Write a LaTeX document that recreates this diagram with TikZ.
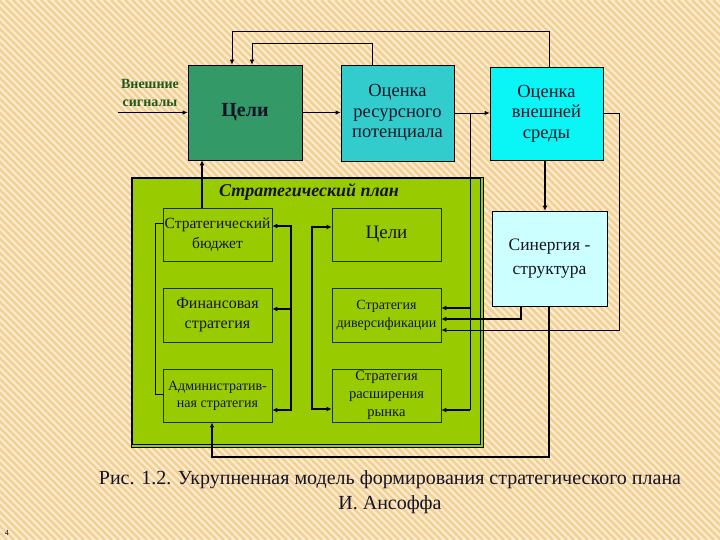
\documentclass[tikz,border=0pt]{standalone}
\usepackage{fontspec}
\setmainfont{Liberation Serif}
\usetikzlibrary{arrows.meta}
\definecolor{bgA}{HTML}{FDEED3}
\definecolor{bgB}{HTML}{F3D096}
\definecolor{celC}{HTML}{339966}
\definecolor{oresC}{HTML}{33CCCC}
\definecolor{oextC}{HTML}{0AF5F5}
\definecolor{synC}{HTML}{CCFFFF}
\definecolor{planC}{HTML}{99CC00}
\definecolor{txtC}{HTML}{141428}
\definecolor{sigC}{HTML}{1E5A1E}
\definecolor{iboxC}{HTML}{1E3200}
\begin{document}
\begin{tikzpicture}[x=1pt,y=-1pt,
  box/.style={draw=black, line width=0.8pt, inner sep=0pt, align=center, text=txtC},
  ibox/.style={draw=iboxC, line width=0.8pt, fill=planC, inner sep=0pt, align=center, text=txtC, minimum width=109pt},
  conn/.style={line width=0.8pt, -{Latex[length=5pt,width=4.5pt]}},
  tconn/.style={line width=1.7pt, -{Latex[length=5pt,width=5pt]}},
  tboth/.style={line width=1.7pt, {Latex[length=5pt,width=5pt]}-{Latex[length=5pt,width=5pt]}},
  wire/.style={line width=0.8pt},
  font=\fontsize{18.5}{20.5}\selectfont]
\useasboundingbox (0,0) rectangle (720,540);
\fill[bgA] (0,0) rectangle (720,540);
\begin{scope}
\clip (0,0) rectangle (720,540);
\foreach \i in {-540,-533,...,720} \draw[bgB, line width=2.7pt] (\i,0) -- ({\i+540},540);
\end{scope}

% top row
\node[box, fill=celC, minimum width=114pt, minimum height=95pt, font=\bfseries\fontsize{20}{22}\selectfont] (cel) at (245,112.5) {Цели};
\node[box, fill=oresC, minimum width=113pt, minimum height=96pt] (ores) at (397.5,113) {Оценка\\ресурсного\\потенциала};
\node[box, fill=oextC, minimum width=113pt, minimum height=93pt] (oext) at (546.5,113.5) {Оценка\\внешней\\среды};
\node[box, fill=synC, minimum width=115pt, minimum height=95pt, font=\fontsize{17.5}{24}\selectfont] (syn) at (549.5,258.5) {Синергия -\\структура};

\node[font=\bfseries\fontsize{14}{18}\selectfont, text=sigC, align=center] (sig) at (150,93) {Внешние\\сигналы};

% plan
\node[draw=black, line width=0.9pt, fill=planC, minimum width=352pt, minimum height=270pt, inner sep=0pt] (plan) at (307,312) {};
\draw[line width=0.6pt] ([xshift=2pt,yshift=-2pt]plan.north west) rectangle ([xshift=-3pt,yshift=3pt]plan.south east);
\node[font=\bfseries\itshape\fontsize{18}{20}\selectfont, text=txtC] (ptitle) at (309,192) {Стратегический план};

\node[ibox, minimum height=53pt, font=\fontsize{15.5}{20}\selectfont] (bud) at (217.5,234.5) {Стратегический\\бюджет};
\node[ibox, minimum height=54pt, font=\fontsize{16}{20}\selectfont] (fin) at (217.5,315) {Финансовая\\стратегия};
\node[ibox, minimum height=53pt, font=\fontsize{14}{17}\selectfont] (adm) at (217.5,395.5) {Административ-\\ная стратегия};
\node[ibox, minimum height=53pt, font=\fontsize{19}{20}\selectfont] (icel) at (386.5,234.5) {Цели};
\node[ibox, minimum height=54pt, font=\fontsize{14}{18}\selectfont] (div) at (386.5,315) {Стратегия\\диверсификации};
\node[ibox, minimum height=53pt, font=\fontsize{14.5}{18}\selectfont] (mkt) at (386.5,395.5) {Стратегия\\расширения\\рынка};

% helper coordinates
\coordinate (sigin) at (118,112.5);
\coordinate (t1a) at (372,43);  \coordinate (t1b) at (252,43);
\coordinate (t2a) at (549,31);  \coordinate (t2b) at (232,31);
\coordinate (v545) at (545,0);
\coordinate (r1) at (619,113);  \coordinate (r2) at (619,330);
\coordinate (m1) at (470,113);  \coordinate (m2) at (470,410); \coordinate (m3) at (470,308);
\coordinate (s1) at (521,319);
\coordinate (s2) at (549,457);  \coordinate (s3) at (212,457);
\coordinate (b1) at (202,0);
\coordinate (l1) at (155,223);  \coordinate (l2) at (155,394);
\coordinate (p1) at (291,226);  \coordinate (p2) at (291,410); \coordinate (p3) at (291,309);
\coordinate (q1) at (312,227);  \coordinate (q2) at (312,409);

% connectors
\draw[conn] (sigin) -- (sigin -| cel.west);
\draw[conn] (cel.east) -- (cel.east -| ores.west);
\draw[conn] (ores.east) -- (ores.east -| oext.west);
\draw[conn] (ores.north -| t1a) -- (t1a) -- (t1b) -- (cel.north -| t1b);
\draw[conn] (oext.north -| t2a) -- (t2a) -- (t2b) -- (cel.north -| t2b);
\draw[tconn] (oext.south -| v545) -- (syn.north -| v545);
\draw[conn] (oext.east |- r1) -- (r1) -- (r2) -- (r2 -| div.east);
\draw[wire] (m1) -- (m2);
\draw[tconn] (m2) -- (m2 -| mkt.east);
\draw[tconn] (m3) -- (m3 -| div.east);
\draw[tconn] (syn.south -| s1) -- (s1) -- (s1 -| div.east);
\draw[conn, line width=1.2pt] (syn.south -| s2) -- (s2) -- (s3) -- (adm.south -| s3);
\draw[tconn] (bud.north -| b1) -- (cel.south -| b1);
\draw[wire] (bud.west |- l1) -- (l1) -- (l2) -- (l2 -| adm.west);
\draw[tboth] (bud.east |- p1) -- (p1) -- (p2) -- (adm.east |- p2);
\draw[tconn] (p3) -- (p3 -| fin.east);
\draw[tboth] (icel.west |- q1) -- (q1) -- (q2) -- (mkt.west |- q2);

% caption
\node[font=\fontsize{20}{25}\selectfont, text=txtC, align=center] (cap) at (390,492) {Рис. 1.2. Укрупненная модель формирования стратегического плана\\И. Ансоффа};
\node[font=\fontsize{8}{10}\selectfont, text=txtC] (pg) at (7,533) {4};
\end{tikzpicture}
\end{document}
